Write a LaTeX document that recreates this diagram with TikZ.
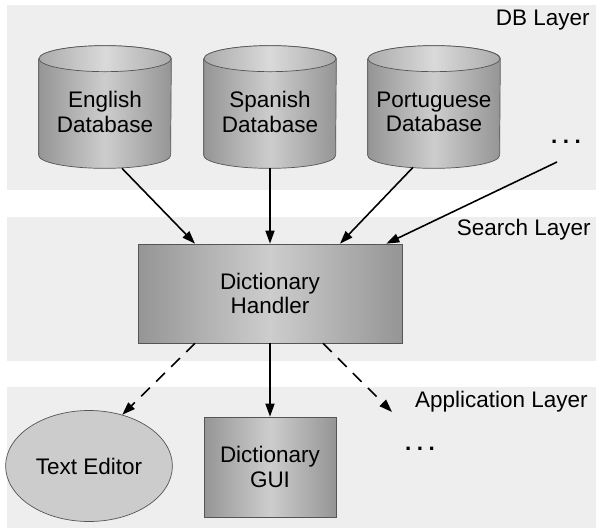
\documentclass[tikz,border=0pt]{standalone}
\usepackage{fontspec}
\setmainfont{Liberation Sans}
\usetikzlibrary{shapes.geometric,arrows.meta,calc}

\definecolor{layerbg}{HTML}{EEEEEE}
\definecolor{linegray}{HTML}{555555}
\definecolor{shadeedge}{HTML}{959595}
\definecolor{shademid}{HTML}{CDCDCD}
\definecolor{topedge}{HTML}{ABABAB}
\definecolor{topmid}{HTML}{DADADA}
\definecolor{editorfill}{HTML}{CCCCCC}

\pgfdeclarehorizontalshading{bodyshade}{100bp}{color(0bp)=(shadeedge); color(25bp)=(shadeedge);
  color(50bp)=(shademid); color(75bp)=(shadeedge); color(100bp)=(shadeedge)}
\pgfdeclarehorizontalshading{capshade}{100bp}{color(0bp)=(topedge); color(25bp)=(topedge);
  color(50bp)=(topmid); color(75bp)=(topedge); color(100bp)=(topedge)}

\newcommand{\moredots}{.\hspace{0.25em}.\hspace{0.25em}.}

\tikzset{
  layer/.style={fill=layerbg, draw=none},
  layername/.style={anchor=east, inner sep=0pt},
  database/.style={rectangle, minimum width=2.64cm, minimum height=1.92cm, inner sep=0pt},
  dbbody/.style={draw=linegray, shading=bodyshade},
  dbcap/.style={draw=linegray, shading=capshade},
  dbname/.style={align=center},
  component/.style={rectangle, draw=linegray, shading=bodyshade, align=center},
  client/.style={ellipse, draw=linegray, fill=editorfill},
  more/.style={inner sep=0pt, font=\fontsize{12.8}{14}\selectfont\bfseries},
  uses/.style={->, line width=0.9pt},
  mayuse/.style={->, line width=0.9pt, dash pattern=on 7pt off 5pt}
}

\begin{document}
\begin{tikzpicture}[x=0.02cm, y=-0.02cm, >={Triangle[length=0.26cm, width=0.18cm]},
    every node/.style={font=\fontsize{12.8}{14}\selectfont}]
  %\draw [help lines] (0,0) grid (596,528);
  \useasboundingbox (0,0) rectangle (596,528);

  % layers
  \fill[layer] (7,5) rectangle (596,190);
  \fill[layer] (7,217) rectangle (596,361);
  \fill[layer] (7,387) rectangle (596,528);
  \node[layername] (dblayer) at (590,20) {DB Layer};
  \node[layername] (searchlayer) at (591,230) {Search Layer};
  \node[layername] (applayer) at (588,402) {Application Layer};

  % databases
  \node[database] (eng) at (105,107) {};
  \node[database] (spa) at (270,107) {};
  \node[database] (por) at (434,107) {};
  \foreach \db in {eng,spa,por} {
    \path[dbbody] (\db.north west) -- (\db.south west)
      arc[start angle=180, end angle=360, x radius=1.32cm, y radius=0.26cm]
      -- (\db.north east)
      arc[start angle=0, end angle=180, x radius=1.32cm, y radius=0.26cm] -- cycle;
    \path[dbcap] (\db.north) ellipse [x radius=1.32cm, y radius=0.26cm];
  }
  \node[dbname] (engname) at ($(eng)+(0,5)$) {English\\Database};
  \node[dbname] (spaname) at ($(spa)+(0,5)$) {Spanish\\Database};
  \node[dbname] (porname) at ($(por)+(0,5)$) {Portuguese\\Database};
  \node[more] (dbmore) at (566,142) {\moredots};

  % search
  \node[component, minimum width=5.28cm, minimum height=1.98cm] (handler) at (270,293.5) {Dictionary\\Handler};

  % applications
  \node[client, minimum width=3.24cm, minimum height=2.22cm] (editor) at (89,466) {Text Editor};
  \node[component, minimum width=2.64cm, minimum height=2cm] (gui) at (270,467) {Dictionary\\GUI};
  \node[more] (appmore) at (420,449) {\moredots};
  \coordinate (appnext) at (392,412);

  \draw[uses] ($(eng.south)+(17,13)$) to ($(handler.north)+(-75,0)$);
  \draw[uses] ($(spa.south)+(0,13)$) to (handler.north);
  \draw[uses] ($(por.south)+(-21,12)$) to ($(handler.north)+(70,0)$);
  \draw[uses] ($(dbmore)+(-9,20)$) to ($(handler.north east)+(-16,0)$);
  \draw[mayuse] ($(handler.south)+(-75,0)$) to (editor.57);
  \draw[uses] (handler.south) to (gui.north);
  \draw[mayuse] ($(handler.south)+(53,0)$) to (appnext);
\end{tikzpicture}
\end{document}
